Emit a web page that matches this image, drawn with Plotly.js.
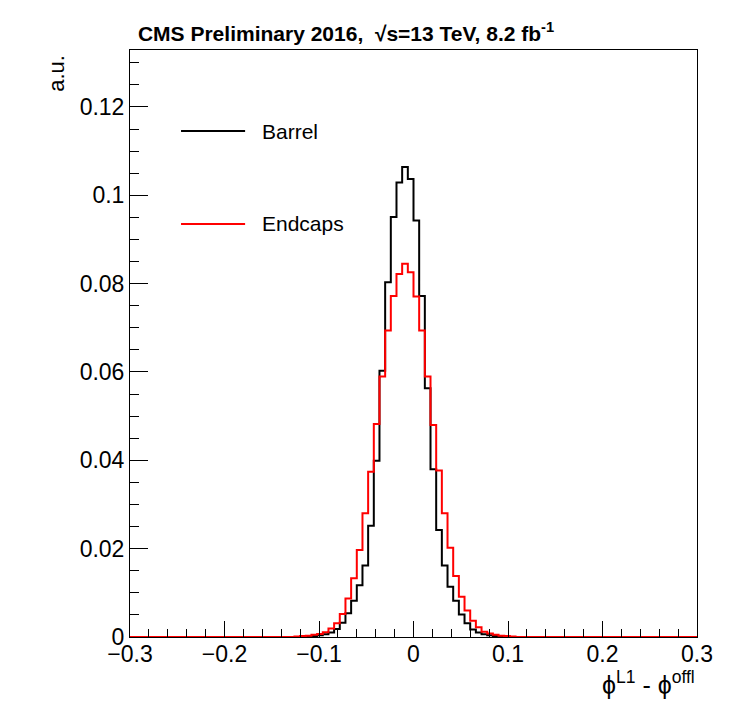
<!DOCTYPE html>
<html>
<head>
<meta charset="utf-8">
<script src="https://cdn.plot.ly/plotly-3.0.1.min.js"></script>
<style>html,body{margin:0;padding:0;background:#fff;}#chart{width:743px;height:707px;}</style>
</head>
<body>
<div id="chart"></div>
<script>
// Histogram: 100 bins of width 0.006 over [-0.3, 0.3]; only non-empty region listed
const xRange = [-0.3, 0.3];
const binWidth = 0.006;
const binLowEdges = [-0.126, -0.120, -0.114, -0.108, -0.102, -0.096, -0.090, -0.084, -0.078, -0.072,
  -0.066, -0.060, -0.054, -0.048, -0.042, -0.036, -0.030, -0.024, -0.018, -0.012,
  -0.006, 0.000, 0.006, 0.012, 0.018, 0.024, 0.030, 0.036, 0.042, 0.048,
  0.054, 0.060, 0.066, 0.072, 0.078, 0.084, 0.090, 0.096, 0.102];
const barrel = [0, 0, 0.0001, 0.0002, 0.0004, 0.0006, 0.0010, 0.0018, 0.0032, 0.0054,
  0.0082, 0.0117, 0.0162, 0.0252, 0.0399, 0.0603, 0.0803, 0.0951, 0.1029, 0.1064,
  0.1037, 0.0943, 0.0772, 0.0563, 0.0380, 0.0242, 0.0162, 0.0114, 0.0082, 0.0051,
  0.0031, 0.0017, 0.0010, 0.0006, 0.0004, 0.0002, 0.0001, 0, 0];
const endcaps = [0.0001, 0.0002, 0.0003, 0.0005, 0.0007, 0.0011, 0.0019, 0.0031, 0.0052, 0.0087,
  0.0133, 0.0197, 0.0280, 0.0374, 0.0482, 0.0590, 0.0694, 0.0772, 0.0822, 0.0845,
  0.0826, 0.0771, 0.0694, 0.0590, 0.0480, 0.0377, 0.0280, 0.0202, 0.0138, 0.0091,
  0.0060, 0.0037, 0.0022, 0.0012, 0.0008, 0.0005, 0.0003, 0.0002, 0.0001];
const seriesNames = ["Barrel", "Endcaps"];
const seriesColors = ["#000000", "#ff0000"];
const titleText = "<b>CMS Preliminary 2016,  \u221As=13 TeV, 8.2 fb<sup>-1</sup></b>";
const xTitle = "\u03D5<sup>L1</sup> - \u03D5<sup>offl</sup>";
const yTitle = "a.u.";

function stepTrace(vals, name, color) {
  const lastEdge = binLowEdges[binLowEdges.length - 1] + binWidth;
  const x = [xRange[0]].concat(binLowEdges, [lastEdge, xRange[1]]);
  const y = [0].concat(vals, [0, 0]);
  return {x: x, y: y, type: 'scatter', mode: 'lines', name: name,
    line: {shape: 'hv', color: color, width: 2}, showlegend: false, hoverinfo: 'skip'};
}

const traces = [stepTrace(barrel, seriesNames[0], seriesColors[0]),
                stepTrace(endcaps, seriesNames[1], seriesColors[1])];

const font = 'Liberation Sans, Arial, Helvetica, sans-serif';
const legendY = [0.862, 0.7036];
const shapes = [];
const annotations = [];
for (let i = 0; i < seriesNames.length; i++) {
  shapes.push({type: 'line', xref: 'paper', yref: 'paper', x0: 0.090, x1: 0.203,
    y0: legendY[i], y1: legendY[i], line: {color: seriesColors[i], width: 2}});
  annotations.push({xref: 'paper', yref: 'paper', x: 0.2285, y: legendY[i], xanchor: 'left',
    yanchor: 'middle', text: seriesNames[i], showarrow: false,
    font: {family: font, size: 21, color: '#000'}});
}
annotations.push({xref: 'paper', yref: 'paper', x: -0.13, y: 0.995, xanchor: 'center', yanchor: 'top',
  textangle: -90, text: yTitle, showarrow: false, font: {family: font, size: 22, color: '#000'}});
annotations.push({xref: 'paper', yref: 'paper', x: 1.0, y: -0.048, xanchor: 'right', yanchor: 'top',
  text: xTitle, showarrow: false, font: {family: font, size: 25, color: '#000'}});

const layout = {
  width: 743, height: 707,
  margin: {l: 130, r: 46, t: 50, b: 70, pad: 0},
  paper_bgcolor: '#fff', plot_bgcolor: '#fff',
  showlegend: false,
  title: {text: titleText, xref: 'paper', x: 0.014, xanchor: 'left', yref: 'container', y: 0.953,
    yanchor: 'middle', font: {family: font, size: 21, color: '#000'}},
  xaxis: {range: xRange, tick0: 0, dtick: 0.1, ticks: 'inside', ticklen: 16, tickwidth: 1,
    tickcolor: '#000', showline: true, linecolor: '#000', linewidth: 1, mirror: true,
    zeroline: false, showgrid: false, ticklabelstandoff: -4,
    minor: {dtick: 0.02, ticks: 'inside', ticklen: 8, tickcolor: '#000', tickwidth: 1, showgrid: false},
    tickfont: {family: font, size: 23, color: '#000'}},
  yaxis: {range: [0, 0.1329], tick0: 0, dtick: 0.02, ticks: 'inside', ticklen: 18, tickwidth: 1,
    tickcolor: '#000', showline: true, linecolor: '#000', linewidth: 1, mirror: true,
    zeroline: false, showgrid: false,
    minor: {dtick: 0.005, ticks: 'inside', ticklen: 9, tickcolor: '#000', tickwidth: 1, showgrid: false},
    tickfont: {family: font, size: 23, color: '#000'}},
  shapes: shapes,
  annotations: annotations
};

Plotly.newPlot('chart', traces, layout, {displayModeBar: false, staticPlot: true});
</script>
</body>
</html>
